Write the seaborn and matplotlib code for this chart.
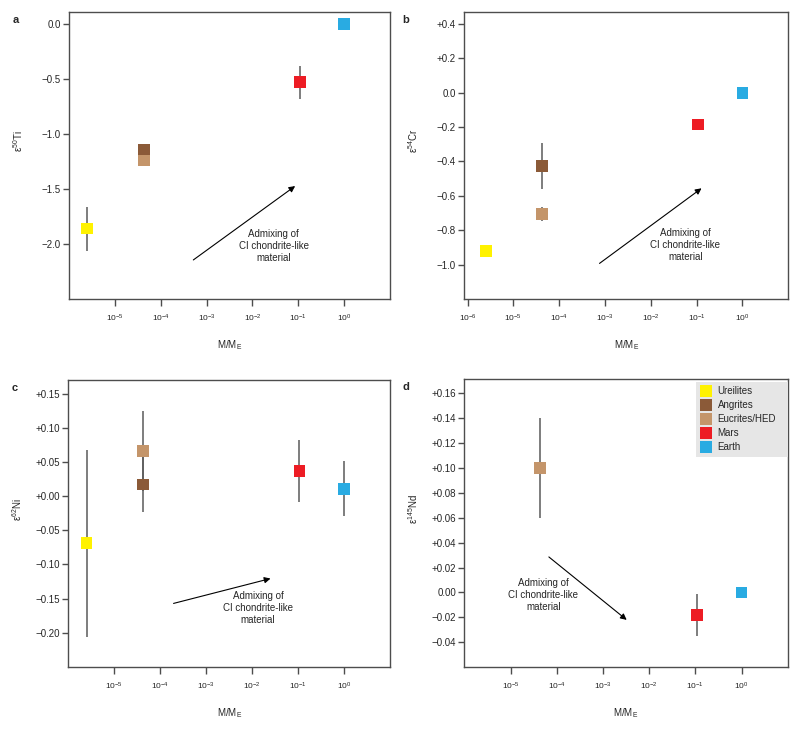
import numpy as np
import pandas as pd
import matplotlib
matplotlib.use("Agg")
import matplotlib.pyplot as plt
from matplotlib.lines import Line2D
from matplotlib.ticker import FixedLocator, FuncFormatter
import seaborn as sns

# ---- data ----
bodies = ["Ureilites", "Angrites", "Eucrites/HED", "Mars", "Earth"]
colors = ["#fff200", "#8b5a38", "#c4956a", "#ed1c24", "#29abe2"]
mass_ratio = [2.5e-6, 4.3e-5, 4.3e-5, 0.107, 1.0]

ti50 = [-1.86, -1.14, -1.24, -0.53, 0.0]
ti50_err = [0.20, 0.03, 0.03, 0.15, 0.0]

cr54 = [-0.92, -0.425, -0.705, -0.185, 0.0]
cr54_err = [0.02, 0.135, 0.042, 0.02, 0.0]

ni62 = [-0.069, 0.017, 0.066, 0.037, 0.011]
ni62_err = [0.137, 0.040, 0.058, 0.045, 0.040]

nd145 = [np.nan, np.nan, 0.100, -0.018, 0.0]
nd145_err = [np.nan, np.nan, 0.040, 0.017, 0.0]

ti_ticks = [0.0, -0.5, -1.0, -1.5, -2.0]
cr_ticks = [0.4, 0.2, 0.0, -0.2, -0.4, -0.6, -0.8, -1.0]
ni_ticks = [0.15, 0.10, 0.05, 0.0, -0.05, -0.10, -0.15, -0.20]
nd_ticks = [0.16, 0.14, 0.12, 0.10, 0.08, 0.06, 0.04, 0.02, 0.0, -0.02, -0.04]

df = pd.DataFrame({
    "body": bodies, "mass": mass_ratio,
    "ti": ti50, "ti_err": ti50_err,
    "cr": cr54, "cr_err": cr54_err,
    "ni": ni62, "ni_err": ni62_err,
    "nd": nd145, "nd_err": nd145_err,
})
palette = dict(zip(bodies, colors))

sns.set_theme(style="white")
plt.rcParams["font.family"] = ["Liberation Sans", "DejaVu Sans"]
plt.rcParams["mathtext.default"] = "regular"
plt.rcParams["axes.unicode_minus"] = True

EDGE = "#4d4d4d"
FS = 7


def tick_fmt(decimals, plus_zero):
    def f(v, pos):
        if abs(v) < 1e-9:
            return ("+" if plus_zero else "") + f"{0:.{decimals}f}"
        s = f"{abs(v):.{decimals}f}"
        return ("+" if v > 0 else "\u2212") + s
    return f


def panel(ax, col, ylabel, letter, letter_x, ylim, yticks, decimals, plus_zero,
          xticks_exp, xlim, arrow, text_xy):
    d = df.dropna(subset=[col]).iloc[::-1]
    ax.errorbar(d["mass"], d[col], yerr=d[col + "_err"], fmt="none",
                ecolor="#5a5a5a", elinewidth=1.1, capsize=0, zorder=2)
    sns.scatterplot(data=d, x="mass", y=col, hue="body", palette=palette,
                    hue_order=bodies, marker="s", s=72, linewidth=0,
                    legend=False, ax=ax, zorder=3)
    ax.set_xscale("log")
    ax.set_xlim(*xlim)
    ax.set_ylim(*ylim)
    ax.xaxis.set_major_locator(FixedLocator([10.0 ** e for e in xticks_exp]))
    ax.set_xticklabels([f"10$^{{{e}}}$" for e in xticks_exp], fontsize=6)
    ax.xaxis.set_minor_locator(FixedLocator([]))
    ax.yaxis.set_major_locator(FixedLocator(yticks))
    ax.yaxis.set_major_formatter(FuncFormatter(tick_fmt(decimals, plus_zero)))
    ax.tick_params(axis="y", direction="out", length=4, width=1, color=EDGE,
                   labelsize=FS, pad=2, left=True)
    ax.tick_params(axis="x", direction="out", length=5, width=1, color=EDGE,
                   pad=5, bottom=True)
    for sp in ax.spines.values():
        sp.set_color(EDGE)
        sp.set_linewidth(1.0)
    ax.set_xlabel("M/M$_E$", fontsize=FS)
    ax.set_ylabel(ylabel, fontsize=FS)
    ax.xaxis.set_label_coords(0.5, -0.135)
    ax.yaxis.set_label_coords(-0.137, 0.55)
    ax.text(letter_x, 0.99, letter, transform=ax.transAxes,
            fontsize=8, fontweight="bold", ha="left", va="top")
    (x0, y0), (x1, y1) = arrow
    ax.annotate("", xy=(x1, y1), xytext=(x0, y0),
                arrowprops=dict(arrowstyle="-|>", color="black", lw=0.8,
                                mutation_scale=9, shrinkA=0, shrinkB=0))
    ax.text(text_xy[0], text_xy[1], "Admixing of\nCI chondrite-like\nmaterial",
            fontsize=FS, ha="center", va="center", linespacing=1.25)


fig = plt.figure(figsize=(8.0, 7.31), dpi=100)
ax_a = fig.add_axes([0.0863, 0.5910, 0.4013, 0.3926])
ax_b = fig.add_axes([0.5804, 0.5910, 0.4050, 0.3926])
ax_c = fig.add_axes([0.0854, 0.0876, 0.4021, 0.3926])
ax_d = fig.add_axes([0.5804, 0.0872, 0.4043, 0.3939])

panel(ax_a, "ti", "\u03b5$^{50}$Ti", "a", -0.175, (-2.5, 0.11), ti_ticks, 1, False,
      [-5, -4, -3, -2, -1, 0], (1e-6, 1e1),
      ((10 ** -3.29, -2.145), (10 ** -1.07, -1.473)), (10 ** -1.54, -2.02))
panel(ax_b, "cr", "\u03b5$^{54}$Cr", "b", -0.19, (-1.2, 0.47), cr_ticks, 1, False,
      [-6, -5, -4, -3, -2, -1, 0], (10 ** -6.07, 1e1),
      ((10 ** -3.12, -0.993), (10 ** -0.894, -0.556)), (10 ** -1.245, -0.886))
panel(ax_c, "ni", "\u03b5$^{62}$Ni", "c", -0.175, (-0.25, 0.17), ni_ticks, 2, True,
      [-5, -4, -3, -2, -1, 0], (1e-6, 1e1),
      ((10 ** -3.71, -0.157), (10 ** -1.60, -0.1206)), (10 ** -1.87, -0.163))
panel(ax_d, "nd", "\u03b5$^{145}$Nd", "d", -0.19, (-0.06, 0.171), nd_ticks, 2, False,
      [-5, -4, -3, -2, -1, 0], (1e-6, 1e1),
      ((10 ** -4.17, 0.0285), (10 ** -2.486, -0.022)), (10 ** -4.29, -0.002))

handles = [Line2D([], [], marker="s", ls="", markersize=8.2, color=c,
                  markeredgewidth=0) for c in colors]
leg = ax_d.legend(handles, bodies, loc="upper left",
                  bbox_to_anchor=(0.7155, 0.992, 0.2845, 0.0), mode="expand",
                  borderaxespad=0.0, fontsize=FS, frameon=True, fancybox=False,
                  facecolor="#e6e6e6", edgecolor="none", framealpha=1,
                  handlelength=1.2, handletextpad=0.6, labelspacing=0.42,
                  borderpad=0.45)

fig.savefig("out.png", dpi=100)
